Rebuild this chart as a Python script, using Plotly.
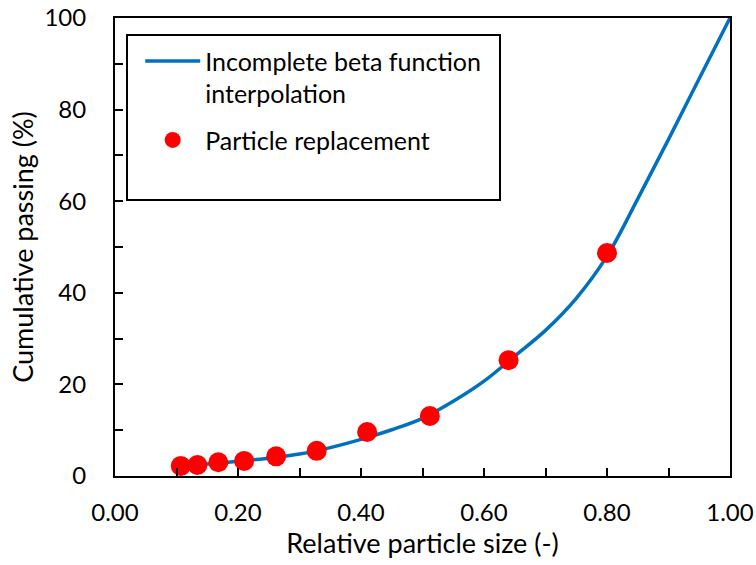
import plotly.graph_objects as go

# Incomplete beta function interpolation
curve_x = [0.107, 0.15, 0.20, 0.25, 0.30, 0.35, 0.40, 0.45, 0.50, 0.55, 0.60,
           0.65, 0.70, 0.75, 0.80, 0.85, 0.90, 0.95, 1.00]
curve_y = [2.0, 2.6, 3.2, 3.9, 4.8, 6.2, 8.0, 10.1, 12.6, 16.3, 20.7,
           26.2, 31.8, 38.8, 48.0, 60.5, 73.5, 86.8, 100.0]

# Particle replacement points
pts_x = [0.107, 0.134, 0.168, 0.210, 0.262, 0.328, 0.410, 0.512, 0.640, 0.800]
pts_y = [2.2, 2.4, 3.0, 3.3, 4.3, 5.5, 9.6, 13.1, 25.3, 48.7]

x_ticks = [0.0, 0.2, 0.4, 0.6, 0.8, 1.0]
y_ticks = [0, 20, 40, 60, 80, 100]

FONT = "Lato"
FS = 24
TFS = 27
fig = go.Figure()
fig.add_trace(go.Scatter(
    x=curve_x, y=curve_y, mode="lines", line=dict(color="#0070C0", width=3.5, shape="spline"),
    name="Incomplete beta function<br>interpolation", legendgroup="a"))
fig.add_trace(go.Scatter(
    x=pts_x, y=pts_y, mode="markers", marker=dict(color="#FF0000", size=20),
    name="Particle replacement", legendgroup="b"))

axis_common = dict(
    showgrid=False, zeroline=False, showline=True, linecolor="black", linewidth=2,
    mirror=True, ticks="inside", ticklen=8, tickwidth=2, tickcolor="black",
    tickfont=dict(family=FONT, size=FS, color="black"), automargin=False,
    ticklabeloverflow="allow",
)
fig.update_xaxes(range=[0, 1], tickvals=x_ticks, tickformat=".2f",
                 minor=dict(dtick=0.1, ticks="inside", ticklen=8, tickwidth=2, tickcolor="black"),
                 ticklabelstandoff=14,
                 title=dict(text="Relative particle size (-)", font=dict(family=FONT, size=TFS, color="black"), standoff=8),
                 **axis_common)
fig.update_yaxes(range=[0, 100], tickvals=y_ticks,
                 minor=dict(dtick=10, ticks="inside", ticklen=8, tickwidth=2, tickcolor="black"),
                 ticklabelstandoff=22,
                 title=dict(text="Cumulative passing (%)", font=dict(family=FONT, size=TFS, color="black"), standoff=3),
                 **axis_common)

fig.add_shape(type="rect", xref="paper", yref="paper",
              x0=(127 - 115) / 615, x1=(500 - 115) / 615,
              y0=(476 - 200) / 458, y1=(476 - 35) / 458,
              line=dict(color="black", width=2), fillcolor="rgba(0,0,0,0)")

fig.update_layout(
    width=756, height=565,
    margin=dict(l=115, r=26, t=18, b=89),
    plot_bgcolor="white", paper_bgcolor="white",
    font=dict(family=FONT, size=FS, color="black"),
    legend=dict(x=0.041, y=0.956, xanchor="left", yanchor="top", bgcolor="rgba(0,0,0,0)",
                font=dict(family=FONT, size=25, color="black"),
                valign="top", tracegroupgap=11, itemwidth=55),
)

fig.write_html("out.html", config={"displayModeBar": False},
               post_script="document.body.style.margin='0px';")
